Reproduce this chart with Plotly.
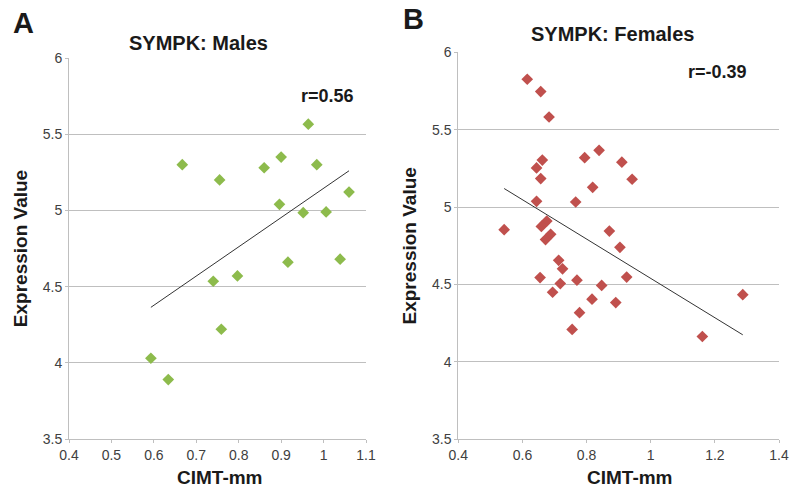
import numpy as np
import plotly.graph_objects as go

# Panel A: Males
male_cimt = [0.667, 0.755, 0.860, 0.900, 0.964, 0.984, 1.060, 0.896, 0.952, 1.006,
             0.740, 0.797, 0.916, 1.039, 0.759, 0.593, 0.634]
male_expr = [5.30, 5.20, 5.28, 5.35, 5.566, 5.30, 5.12, 5.04, 4.985, 4.99,
             4.535, 4.57, 4.66, 4.68, 4.22, 4.03, 3.89]

# Panel B: Females
female_cimt = [0.615, 0.657, 0.683, 0.662, 0.644, 0.657, 0.644, 0.543, 0.794, 0.839,
               0.819, 0.766, 0.910, 0.942, 0.676, 0.659, 0.688, 0.672, 0.871, 0.904,
               0.713, 0.725, 0.655, 0.718, 0.694, 0.770, 0.847, 0.925, 0.817, 0.891,
               0.778, 0.755, 1.161, 1.287]
female_expr = [5.826, 5.746, 5.582, 5.304, 5.253, 5.184, 5.037, 4.854, 5.319, 5.367,
               5.128, 5.033, 5.29, 5.18, 4.91, 4.875, 4.824, 4.79, 4.845, 4.74,
               4.656, 4.601, 4.545, 4.506, 4.45, 4.528, 4.494, 4.548, 4.405, 4.383,
               4.318, 4.21, 4.164, 4.434]

# Trendline endpoints
male_trend_x = [0.593, 1.060]
male_trend_y = [4.364, 5.26]
female_trend_x = [0.543, 1.287]
female_trend_y = [5.12, 4.175]

male_xticks = [0.4, 0.5, 0.6, 0.7, 0.8, 0.9, 1.0, 1.1]
male_xlabels = ["0.4", "0.5", "0.6", "0.7", "0.8", "0.9", "1", "1.1"]
female_xticks = [0.4, 0.6, 0.8, 1.0, 1.2, 1.4]
female_xlabels = ["0.4", "0.6", "0.8", "1", "1.2", "1.4"]
yticks = [3.5, 4.0, 4.5, 5.0, 5.5, 6.0]
ylabels = ["3.5", "4", "4.5", "5", "5.5", "6"]

GREEN = "#8DBB4C"
RED = "#C0504D"
FONT = "Liberation Sans, Arial, sans-serif"

W, H = 793, 491


def px(x):
    return x / W


def py(y):
    return 1 - y / H


fig = go.Figure()

fig.add_trace(go.Scatter(x=male_cimt, y=male_expr, mode="markers",
                         marker=dict(symbol="diamond", size=9, color=GREEN),
                         xaxis="x", yaxis="y", showlegend=False))
fig.add_trace(go.Scatter(x=male_trend_x, y=male_trend_y, mode="lines",
                         line=dict(color="#333333", width=1),
                         xaxis="x", yaxis="y", showlegend=False))
fig.add_trace(go.Scatter(x=female_cimt, y=female_expr, mode="markers",
                         marker=dict(symbol="diamond", size=9, color=RED),
                         xaxis="x2", yaxis="y2", showlegend=False))
fig.add_trace(go.Scatter(x=female_trend_x, y=female_trend_y, mode="lines",
                         line=dict(color="#333333", width=1),
                         xaxis="x2", yaxis="y2", showlegend=False))


def xax(dom, rng, ticks, labels, anchor):
    return dict(domain=dom, range=rng, tickvals=ticks, ticktext=labels,
                showgrid=False, zeroline=False, showline=True, linecolor="#BFBFBF",
                linewidth=1, ticks="outside", ticklen=3, tickcolor="#BFBFBF",
                tickfont=dict(family=FONT, size=14, color="#404040"), anchor=anchor,
                automargin=False)


def yax(dom, anchor):
    return dict(domain=dom, range=[3.5, 6.0], tickvals=yticks, ticktext=ylabels,
                showgrid=True, gridcolor="#BFBFBF", gridwidth=1, zeroline=False,
                showline=True, linecolor="#BFBFBF", linewidth=1,
                ticks="outside", ticklen=3, tickcolor="#BFBFBF",
                tickfont=dict(family=FONT, size=14, color="#404040"), anchor=anchor,
                automargin=False,
                title=dict(text="<b>Expression Value</b>", font=dict(family=FONT, size=19, color="#1a1a1a"),
                           standoff=10))


def label(text, x, y, size):
    return dict(text=text, x=px(x), y=py(y), xref="paper", yref="paper",
                xanchor="center", yanchor="middle", showarrow=False,
                font=dict(family=FONT, size=size, color="#1a1a1a"))


fig.update_layout(
    width=W, height=H,
    margin=dict(l=0, r=0, t=0, b=0),
    paper_bgcolor="white", plot_bgcolor="white",
    xaxis=xax([px(69), px(366)], [0.4, 1.1], male_xticks, male_xlabels, "y"),
    yaxis=yax([py(439), py(58)], "x"),
    xaxis2=xax([px(458.3), px(779)], [0.4, 1.4], female_xticks, female_xlabels, "y2"),
    yaxis2=yax([py(439.3), py(52.3)], "x2"),
    annotations=[
        label("<b>A</b>", 23, 23, 29),
        label("<b>B</b>", 414, 19, 29),
        label("<b>SYMPK: Males</b>", 198, 43, 20),
        label("<b>SYMPK: Females</b>", 612, 34, 20),
        label("<b>r=0.56</b>", 327, 96, 18),
        label("<b>r=-0.39</b>", 717, 72, 18),
        label("<b>CIMT-mm</b>", 220, 477, 19),
        label("<b>CIMT-mm</b>", 630, 477, 19),
    ],
)

fig.write_html("out.html",
               config={"displayModeBar": False},
               post_script="document.body.style.margin='0px';document.body.style.overflow='hidden';")
